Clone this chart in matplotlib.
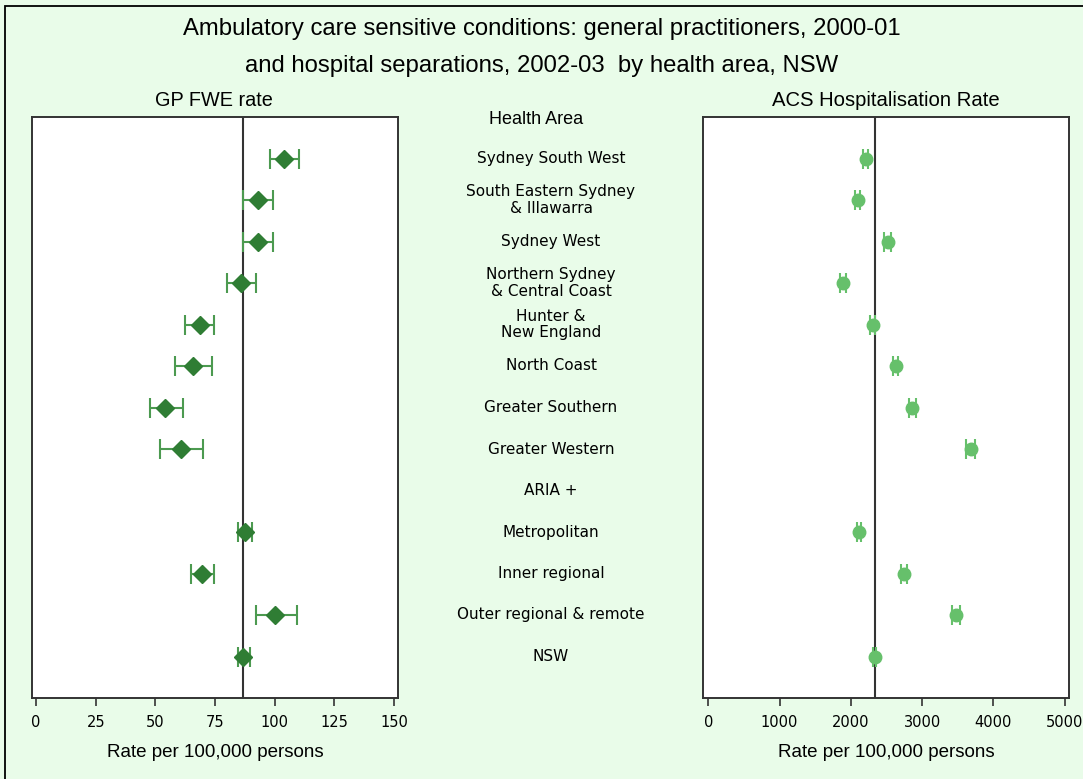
import matplotlib
matplotlib.use("Agg")
import matplotlib.pyplot as plt
from matplotlib.transforms import blended_transform_factory
from matplotlib.patches import Rectangle

# ---- data ----
areas = ["Sydney South West", "South Eastern Sydney\n& Illawarra", "Sydney West",
         "Northern Sydney\n& Central Coast", "Hunter &\nNew England", "North Coast",
         "Greater Southern", "Greater Western", "ARIA +", "Metropolitan",
         "Inner regional", "Outer regional & remote", "NSW"]
positions = [1, 2, 3, 4, 5, 6, 7, 8, 9, 10, 11, 12, 13]

# GP FWE rate (ARIA + header has no value)
gp_rate = [104.0, 92.9, 92.9, 85.8, 68.7, 65.9, 53.9, 60.7, None, 87.6, 69.4, 100.2, 86.9]
gp_low = [98.1, 86.9, 86.9, 80.2, 62.6, 58.4, 47.6, 51.9, None, 84.5, 64.9, 92.1, 84.5]
gp_high = [110.0, 99.2, 99.2, 92.1, 74.4, 73.8, 61.4, 70.0, None, 90.4, 74.4, 109.3, 89.7]
gp_ref = 86.7

# ACS hospitalisation rate
acs_rate = [2206, 2094, 2514, 1892, 2308, 2626, 2864, 3682, None, 2108, 2743, 3472, 2336]
acs_low = [2166, 2054, 2470, 1852, 2275, 2585, 2818, 3620, None, 2080, 2700, 3412, 2316]
acs_high = [2246, 2134, 2558, 1932, 2341, 2667, 2910, 3744, None, 2136, 2786, 3532, 2356]
acs_ref = 2336

gp_ticks = [0, 25, 50, 75, 100, 125, 150]
acs_ticks = [0, 1000, 2000, 3000, 4000, 5000]

BG = "#e9fce9"
W, H = 1083, 779
fig = plt.figure(figsize=(W / 100, H / 100), dpi=100, facecolor=BG)

# partial frame (as in cropped reference)
fig.patches.append(Rectangle((5 / W, -0.1), 1.2, 1 - 6 / H + 0.1, transform=fig.transFigure,
                             fill=False, edgecolor="black", linewidth=1.3))

def fx(px):
    return px / W

def fy(py):
    return 1 - py / H

ax_l = fig.add_axes([fx(32), fy(698), fx(398) - fx(32), fy(117) - fy(698)])
ax_r = fig.add_axes([fx(703), fy(698), fx(1069) - fx(703), fy(117) - fy(698)])

def style(ax, xlim, ticks):
    ax.set_facecolor("white")
    ax.set_xlim(*xlim)
    ax.set_ylim(14, 0)
    ax.set_yticks([])
    ax.set_xticks(ticks)
    ax.set_xticklabels([str(t) for t in ticks], fontsize=10.5, family="DejaVu Sans")
    ax.tick_params(axis="x", direction="out", length=6, width=1.2, color="#333333", pad=6)
    for s in ax.spines.values():
        s.set_color("#333333")
        s.set_linewidth(1.4)
    ax.set_xlabel("Rate per 100,000 persons", fontsize=13.5, family="Liberation Sans", labelpad=10)

style(ax_l, (-1.7, 151.7), gp_ticks)
style(ax_r, (-75, 5060), acs_ticks)

ax_l.axvline(gp_ref, color="#333333", lw=1.5, zorder=1)
ax_r.axvline(acs_ref, color="#333333", lw=1.5, zorder=1)

for p, v, lo, hi in zip(positions, gp_rate, gp_low, gp_high):
    if v is None:
        continue
    ax_l.errorbar([v], [p], xerr=[[v - lo], [hi - v]], fmt="none", ecolor="#4c9a50",
                  elinewidth=1.5, capsize=7, capthick=1.5, zorder=2)
    ax_l.plot([v], [p], marker="D", ms=9, color="#2f7d34", zorder=3)

for p, v, lo, hi in zip(positions, acs_rate, acs_low, acs_high):
    if v is None:
        continue
    ax_r.errorbar([v], [p], xerr=[[v - lo], [hi - v]], fmt="none", ecolor="#66c06b",
                  elinewidth=1.5, capsize=7, capthick=1.5, zorder=2)
    ax_r.plot([v], [p], marker="o", ms=9, color="#66c06b", zorder=3)

# middle labels
tr = blended_transform_factory(fig.transFigure, ax_l.transData)
fig.text(fx(536), 0.05, "Health Area", transform=tr, ha="center", va="center",
         fontsize=13, family="Liberation Sans")
for p, name in zip(positions, areas):
    fig.text(fx(551), p, name, transform=tr, ha="center", va="center",
             fontsize=11, family="DejaVu Sans", linespacing=1.15)

# titles
fig.text(0.5, fy(29), "Ambulatory care sensitive conditions: general practitioners, 2000-01",
         ha="center", va="center", fontsize=17.2, family="Liberation Sans")
fig.text(0.5, fy(66), "and hospital separations, 2002-03  by health area, NSW",
         ha="center", va="center", fontsize=17.2, family="Liberation Sans")
fig.text(fx(214), fy(101), "GP FWE rate", ha="center", va="center", fontsize=14.3,
         family="Liberation Sans")
fig.text(fx(886), fy(101), "ACS Hospitalisation Rate", ha="center", va="center",
         fontsize=14.6, family="Liberation Sans")

fig.savefig("out.png", dpi=100, facecolor=BG)
